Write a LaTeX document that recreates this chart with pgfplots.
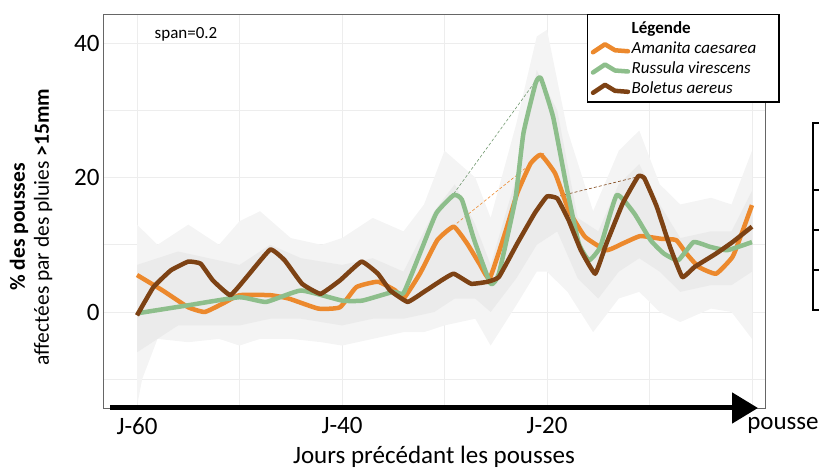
\documentclass[border=0pt]{standalone}
\usepackage{pgfplots}
\pgfplotsset{compat=1.18}
\usepackage{fontspec}
\setmainfont{Carlito}
\usetikzlibrary{arrows.meta}
\definecolor{cOrange}{RGB}{236,137,45}
\definecolor{cGreen}{RGB}{141,190,139}
\definecolor{cBrown}{RGB}{125,66,20}
\newcommand\fs[2]{\fontsize{#1}{#2}\selectfont}
\begin{document}
\begin{tikzpicture}
\useasboundingbox (0,0) rectangle (819bp,470bp);
\begin{axis}[
  at={(103bp,62bp)}, anchor=south west,
  width=662bp, height=394bp, scale only axis,
  xmin=-63.32, xmax=1.27, ymin=-14.29, ymax=44.35,
  xtick={-60,-50,...,0}, xticklabels={J-60,,J-40,,J-20,,\hspace*{62bp}pousse},
  ytick={-10,0,10,20,30,40}, yticklabels={,0,,20,,40},
  major tick length=0pt,
  /pgf/number format/assume math mode=true,
  tick label style={font=\fs{25bp}{30bp}},
  xticklabel style={yshift=-6bp},
  grid=major, major grid style={gray!14, line width=0.8bp},
  axis line style={black!60, line width=0.9bp},
  xlabel={Jours précédant les pousses},
  xlabel style={at={(axis description cs:0.5,0)}, anchor=center, yshift=-49bp, font=\fs{25bp}{30bp}},
  legend style={at={(rel axis cs:0.7311,1)}, anchor=north west, draw=black, line width=1.5bp,
    fill=white, font=\fs{17bp}{20bp}\itshape, inner xsep=3bp, inner ysep=5bp, row sep=4bp,
    nodes={inner sep=1.5bp}},
  legend cell align=left,
  legend image code/.code={\draw[#1, line width=4.5bp, line join=round, line cap=round]
     (0bp,-4bp) -- (12bp,4bp) -- (22bp,-2bp) -- (35bp,-3bp);},
]
% outer band
\addplot[fill=gray!9, draw=none, forget plot] coordinates {
(-60,13) (-58,10) (-55,13) (-52,10) (-50,13.5) (-48,15) (-45,11) (-42,10) (-40,11) (-37,14) (-34,12) (-32,16) (-30,24) (-27,20) (-25.5,14) (-23,28) (-21,41) (-20,42) (-18,27) (-15.5,15) (-13,24) (-11,27) (-9,19) (-7,16) (-4,17) (-2,16) (0,24)
(0,-4) (-2,0) (-4,0.5) (-7,-1.5) (-9,0) (-11,3) (-13,2) (-15.5,-3) (-18,3) (-20,6) (-21,6) (-23,1) (-25.5,-5) (-27,-1) (-30,-2) (-32,-3) (-34,-3) (-37,-4) (-40,-5) (-42,-4.5) (-45,-4) (-48,-4) (-50,-5) (-52,-4) (-55,-4.5) (-58,-4) (-59.5,-10) (-60,-14)
} -- cycle;
% inner band
\addplot[fill=gray!16, draw=none, forget plot] coordinates {
(-60,7) (-56,9) (-53,8) (-50,7) (-47,10) (-44,8) (-40,7) (-37,8) (-34,6) (-31,15) (-29,19) (-27,13) (-25.5,7) (-23,20) (-21,36) (-19,30) (-17,14) (-15,12) (-13,19) (-11,22) (-9,16) (-7,11) (-4,12) (-2,12) (0,18)
(0,6) (-2,4) (-4,4) (-7,3) (-9,6) (-11,8) (-13,6) (-15,2) (-17,5) (-19,12) (-21,10) (-23,5) (-25.5,0) (-27,2) (-29,2) (-31,0) (-34,-1) (-37,-1) (-40,-2) (-44,-1) (-47,-1) (-50,-2) (-53,-2) (-56,-2) (-60,-6)
} -- cycle;
% dashed peak connectors
\addplot[cGreen!80!black, densely dashed, line width=0.6bp, forget plot] coordinates {(-29.1,17.6) (-21.2,34.2)};
\addplot[cOrange, densely dashed, line width=0.6bp, forget plot] coordinates {(-28.8,13.2) (-20.3,23.6)};
\addplot[cBrown, densely dashed, line width=0.6bp, forget plot] coordinates {(-19.2,17.1) (-11.2,20.1)};
\addlegendimage{empty legend}
\addlegendentry{\upshape\bfseries Légende}
% Amanita caesarea
\addplot[cOrange, line width=4.5bp, line join=round, smooth, tension=0.25] coordinates {
(-60,5.5) (-57.5,3.2) (-55,0.7) (-53.4,0.0) (-51.7,1.2) (-50,2.5) (-47,2.5) (-45.2,2.0) (-42.3,0.5) (-40.2,0.7) (-38.6,3.7) (-36.5,4.5) (-34.8,3.2) (-34,2.0) (-32.4,5.7) (-30.7,10.7) (-29.1,12.7) (-27.8,10.2) (-26.6,7.2) (-25.6,5.0) (-24.1,11.7) (-22.9,17.7) (-21.6,22.1) (-20.6,23.4) (-19.2,20.6) (-17.9,15.2) (-16.3,11.2) (-14.2,9.2) (-12.6,10.2) (-10.9,11.3) (-8.9,10.9) (-7.4,10.7) (-6.4,8.7) (-5.2,6.7) (-3.5,5.7) (-1.9,8.2) (-1.0,11.7) (0,15.9)
};
\addlegendentry{Amanita caesarea\hspace*{18bp}}
% Russula virescens
\addplot[cGreen, line width=4.5bp, line join=round, smooth, tension=0.25] coordinates {
(-60,-0.2) (-55,1.0) (-50,2.2) (-47.4,1.5) (-44,3.2) (-40,1.7) (-38,1.7) (-35,3.0) (-34,2.8) (-32.4,8.7) (-30.8,14.7) (-29.1,17.4) (-28.3,16.7) (-27.1,10.7) (-25.5,4.2) (-24.7,5.7) (-23.1,16.7) (-22.3,26.6) (-21.1,34.1) (-20.6,34.8) (-19.4,29.0) (-18.1,18.7) (-16.9,10.2) (-15.9,7.7) (-14.8,9.7) (-13.2,17.4) (-11.5,14.7) (-9.9,10.7) (-8.6,8.7) (-7.2,7.7) (-5.7,10.4) (-4.1,9.7) (-2.4,9.2) (0,10.4)
};
\addlegendentry{Russula virescens}
% Boletus aereus
\addplot[cBrown, line width=4.5bp, line join=round, smooth, tension=0.2] coordinates {
(-60,-0.5) (-58.4,3.7) (-56.7,6.2) (-55,7.5) (-53.8,7.2) (-52.6,4.7) (-50.9,2.5) (-49.3,5.2) (-47,9.3) (-45.6,7.7) (-43.9,4.2) (-42.1,2.7) (-40.2,4.7) (-38.1,7.5) (-36.5,5.7) (-35.3,3.2) (-33.6,1.5) (-32,3.0) (-30.3,4.7) (-29.1,5.7) (-27.4,4.2) (-25.8,4.5) (-24.7,5.2) (-22.9,10.2) (-21.2,14.7) (-20,17.2) (-19,16.9) (-17.9,13.7) (-16.7,9.2) (-15.3,5.7) (-14.2,10.2) (-12.6,16.2) (-11.1,20.2) (-10.5,19.9) (-9.3,15.7) (-8,9.7) (-6.8,5.2) (-5.6,6.7) (-3.5,8.7) (-1.9,10.4) (0,12.7)
};
\addlegendentry{Boletus aereus}
\end{axis}
% span label
\fill[white] (138bp,427bp) rectangle (239bp,455bp);
\node[font=\fs{17bp}{20bp}] at (186bp,436bp) {span=0.2};
% bottom arrow
\draw[line width=5bp, -{Triangle[length=26bp, width=30bp]}] (110bp,62bp) -- (758bp,62bp);
% y label
\node[rotate=90, align=center, font=\fs{21.5bp}{24bp}] at (31bp,243bp)
  {\textbf{\% des pousses}\\affectées par des pluies \textbf{>15mm}};
% partial table at right edge
\draw[line width=1.2bp] (830bp,347bp) -- (813bp,347bp) -- (813bp,160bp) -- (830bp,160bp);
\draw[line width=1.2bp] (813bp,280bp) -- (830bp,280bp);
\draw[line width=1.2bp] (813bp,240bp) -- (830bp,240bp);
\draw[line width=1.2bp] (813bp,200bp) -- (830bp,200bp);
\end{tikzpicture}
\end{document}
